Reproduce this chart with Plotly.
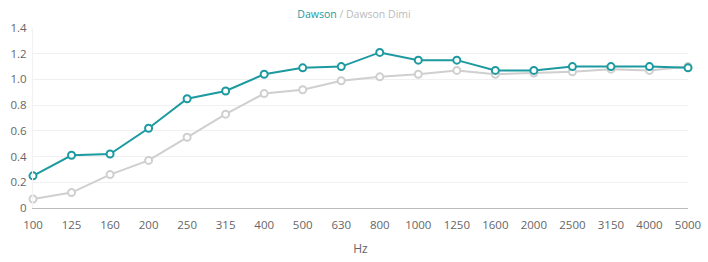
import plotly.graph_objects as go

categories = ["100", "125", "160", "200", "250", "315", "400", "500", "630", "800",
              "1000", "1250", "1600", "2000", "2500", "3150", "4000", "5000"]
dawson = [0.25, 0.41, 0.42, 0.62, 0.85, 0.91, 1.04, 1.09, 1.10, 1.21,
          1.15, 1.15, 1.07, 1.07, 1.10, 1.10, 1.10, 1.09]
dawson_dimi = [0.07, 0.12, 0.26, 0.37, 0.55, 0.73, 0.89, 0.92, 0.99, 1.02,
               1.04, 1.07, 1.04, 1.05, 1.06, 1.08, 1.07, 1.10]
y_ticks = [0, 0.2, 0.4, 0.6, 0.8, 1.0, 1.2, 1.4]
y_tick_text = ["0", "0.2", "0.4", "0.6", "0.8", "1.0", "1.2", "1.4"]

TEAL = "#1c9aa0"
GRAY = "#cfcfcf"

fig = go.Figure()
fig.add_trace(go.Scatter(
    x=categories, y=dawson_dimi, mode="lines+markers", name="Dawson Dimi",
    line=dict(color=GRAY, width=2),
    marker=dict(symbol="circle", size=7, color="white", line=dict(color=GRAY, width=2)),
    cliponaxis=False,
))
fig.add_trace(go.Scatter(
    x=categories, y=dawson, mode="lines+markers", name="Dawson",
    line=dict(color=TEAL, width=2),
    marker=dict(symbol="circle", size=7, color="white", line=dict(color=TEAL, width=2)),
    cliponaxis=False,
))

fig.update_layout(
    width=708, height=262,
    margin=dict(l=33, r=20, t=28, b=54),
    paper_bgcolor="white", plot_bgcolor="white",
    showlegend=False,
    font=dict(family="Open Sans, sans-serif", color="#666666", size=12),
    title=dict(
        text=f"<span style='color:{TEAL}'>Dawson</span><span style='color:#bbbbbb'> / Dawson Dimi</span>",
        x=0.5, xanchor="center", y=0.945, yanchor="middle",
        font=dict(size=10.5, family="Open Sans, sans-serif"),
    ),
    xaxis=dict(
        type="category", range=[0, 17], automargin=False,
        showgrid=False, showline=True, linecolor="#bbbbbb", linewidth=1,
        ticks="outside", ticklen=6, tickcolor="rgba(0,0,0,0)",
        tickfont=dict(size=11.5, color="#666666"),
        title=dict(text="Hz", font=dict(size=12, color="#666666"), standoff=13),
        zeroline=False,
    ),
    yaxis=dict(
        range=[0, 1.4], tickvals=y_ticks, ticktext=y_tick_text, automargin=False,
        showgrid=True, gridcolor="#f0f0f0", gridwidth=1,
        zeroline=False, showline=True, linecolor="#f2f2f2",
        ticks="outside", ticklen=3, tickcolor="rgba(0,0,0,0)",
        tickfont=dict(size=11.5, color="#666666"),
    ),
)

fig.write_html("out.html")
